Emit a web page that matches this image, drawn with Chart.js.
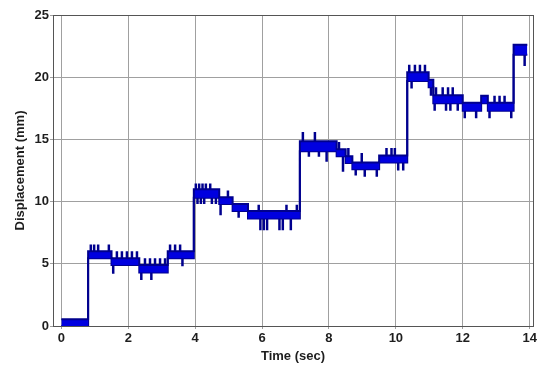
<!DOCTYPE html>
<html>
<head>
<meta charset="utf-8">
<script src="https://cdn.jsdelivr.net/npm/chart.js@4"></script>
<style>
html,body{margin:0;padding:0;background:#fff;}
#wrap{width:537px;height:366px;}
</style>
</head>
<body>
<div id="wrap"><canvas id="c" width="537" height="366"></canvas></div>
<script>
// Plateau bands of the displacement trace (start time, lower level, upper level)
const bandTimes = [0, 0.80, 1.50, 2.33, 3.18, 3.96, 4.72, 5.12, 5.58, 7.13, 8.23, 8.50, 8.70, 9.50, 10.34, 10.98, 11.12, 12.00, 12.55, 12.75, 13.52, 13.93];
const bandLow  = [0, 5.45, 4.90, 4.30, 5.45, 10.30, 9.80, 9.25, 8.65, 14.05, 13.65, 13.10, 12.60, 13.15, 19.70, 19.20, 17.90, 17.30, 17.90, 17.30, 21.80, 21.80];
const bandHigh = [0.55, 6.00, 5.45, 4.90, 6.00, 11.00, 10.35, 9.80, 9.25, 14.85, 14.20, 13.65, 13.15, 13.70, 20.40, 19.80, 18.55, 17.95, 18.50, 17.95, 22.60, 22.60];

// Single-sample spikes of the trace (time, from level, to level)
const spikeTimes = [0.88, 0.98, 1.10, 1.42, 1.55,
  1.66, 1.81, 1.96, 2.11, 2.26,
  2.39, 2.69, 2.50, 2.65, 2.80, 2.95, 3.10,
  3.25, 3.40, 3.55, 3.62,
  4.02, 4.12, 4.22, 4.32, 4.45, 4.07, 4.17, 4.27, 4.50, 4.62,
  4.98, 4.76, 5.30,
  5.95, 6.05, 6.15, 6.52, 6.62, 6.86, 5.90, 6.73, 7.04,
  7.22, 7.58, 7.93, 7.40, 7.70,
  8.42, 8.30, 8.58,
  9.07, 9.43, 8.98, 8.80,
  9.72, 9.87, 9.97, 10.07, 10.22,
  10.40, 10.57, 10.72, 10.87, 10.47,
  11.05,
  11.20, 11.40, 11.56, 11.70, 11.16, 11.50, 11.63, 11.85,
  12.06, 12.40, 12.80, 13.45, 12.95, 13.10, 13.25,
  13.85];
const spikeFrom = [6.0, 6.0, 6.0, 6.0, 4.9,
  5.45, 5.45, 5.45, 5.45, 5.45,
  4.3, 4.3, 4.9, 4.9, 4.9, 4.9, 4.9,
  6.0, 6.0, 6.0, 5.45,
  11.0, 11.0, 11.0, 11.0, 11.0, 10.3, 10.3, 10.3, 10.3, 10.3,
  10.35, 9.8, 9.25,
  8.65, 8.65, 8.65, 8.65, 8.65, 8.65, 9.25, 9.25, 9.25,
  14.85, 14.85, 14.05, 14.05, 14.05,
  13.65, 14.2, 13.65,
  12.6, 12.6, 13.15, 12.6,
  13.7, 13.7, 13.7, 13.15, 13.15,
  20.4, 20.4, 20.4, 20.4, 19.7,
  19.2,
  18.55, 18.55, 18.55, 18.55, 17.9, 17.9, 17.9, 17.9,
  17.3, 17.3, 17.3, 17.3, 17.95, 17.95, 17.95,
  21.8];
const spikeTo = [6.55, 6.55, 6.55, 6.55, 4.2,
  6.0, 6.0, 6.0, 6.0, 6.0,
  3.7, 3.7, 5.45, 5.45, 5.45, 5.45, 5.45,
  6.55, 6.55, 6.55, 4.8,
  11.45, 11.45, 11.45, 11.45, 11.45, 9.8, 9.8, 9.8, 9.8, 9.8,
  10.9, 8.9, 8.7,
  7.7, 7.7, 7.7, 7.7, 7.7, 7.7, 9.75, 9.75, 9.75,
  15.6, 15.6, 13.2, 13.6, 13.6,
  12.4, 14.8, 14.3,
  12.0, 12.0, 13.9, 12.1,
  14.3, 14.3, 14.3, 12.5, 12.5,
  21.0, 21.0, 21.0, 21.0, 19.1,
  18.5,
  19.2, 19.2, 19.2, 19.2, 17.3, 17.3, 17.3, 17.3,
  16.7, 16.7, 16.7, 16.7, 18.5, 18.5, 18.5,
  20.9];

const xTicks = [0, 2, 4, 6, 8, 10, 12, 14];
const yTicks = [0, 5, 10, 15, 20, 25];

const lineBlue = '#00008e';
const fillBlue = '#0000e0';

const highPts = bandTimes.map((t, i) => ({x: t, y: bandHigh[i]}));
const lowPts = bandTimes.map((t, i) => ({x: t, y: bandLow[i]}));
const spikePts = [];
spikeTimes.forEach((t, i) => {
  spikePts.push({x: t, y: spikeFrom[i]});
  spikePts.push({x: t, y: spikeTo[i]});
  spikePts.push({x: t, y: null});
});

const font = {family: "'Liberation Sans', Arial, sans-serif", size: 13, weight: 'bold'};
const textColor = '#1e1e1e';

const framePlugin = {
  id: 'frame',
  afterDraw(chart) {
    const {ctx, chartArea: a} = chart;
    ctx.save();
    ctx.strokeStyle = '#555';
    ctx.lineWidth = 1;
    ctx.strokeRect(Math.round(a.left) + 0.5, Math.round(a.top) + 0.5, Math.round(a.right - a.left), Math.round(a.bottom - a.top));
    ctx.restore();
  }
};

new Chart(document.getElementById('c'), {
  type: 'line',
  data: {
    datasets: [
      {data: highPts, stepped: true, borderColor: lineBlue, borderWidth: 2, backgroundColor: fillBlue, fill: '+1', pointRadius: 0},
      {data: lowPts, stepped: true, borderColor: lineBlue, borderWidth: 2, fill: false, pointRadius: 0},
      {data: spikePts, borderColor: lineBlue, borderWidth: 2.5, fill: false, pointRadius: 0, spanGaps: false}
    ]
  },
  options: {
    responsive: false,
    animation: false,
    events: [],
    layout: {padding: {left: 0, right: 4, top: 15, bottom: 0}},
    plugins: {legend: {display: false}, tooltip: {enabled: false}},
    scales: {
      x: {
        type: 'linear',
        min: -0.25,
        max: 14.1,
        afterBuildTicks: s => { s.ticks = xTicks.map(v => ({value: v})); },
        afterFit: s => { s.height = 40; s.paddingLeft = 0; s.paddingRight = 0; },
        grid: {color: '#a0a0a0', lineWidth: 1, tickLength: 3, drawTicks: true},
        border: {color: '#555', width: 1},
        ticks: {font: font, color: textColor, padding: 2, maxRotation: 0, autoSkip: false},
        title: {display: true, text: 'Time (sec)', font: font, color: textColor, padding: {top: 0, bottom: 1.5}}
      },
      y: {
        type: 'linear',
        min: 0,
        max: 25,
        afterBuildTicks: s => { s.ticks = yTicks.map(v => ({value: v})); },
        afterFit: s => { s.width = 53; s.paddingTop = 0; s.paddingBottom = 0; },
        grid: {color: '#a0a0a0', lineWidth: 1, tickLength: 3, drawTicks: true},
        border: {color: '#555', width: 1},
        ticks: {font: font, color: textColor, padding: 1},
        title: {display: true, text: 'Displacement (mm)', font: font, color: textColor, padding: {top: 13, bottom: 0}}
      }
    }
  },
  plugins: [framePlugin]
});
</script>
</body>
</html>
